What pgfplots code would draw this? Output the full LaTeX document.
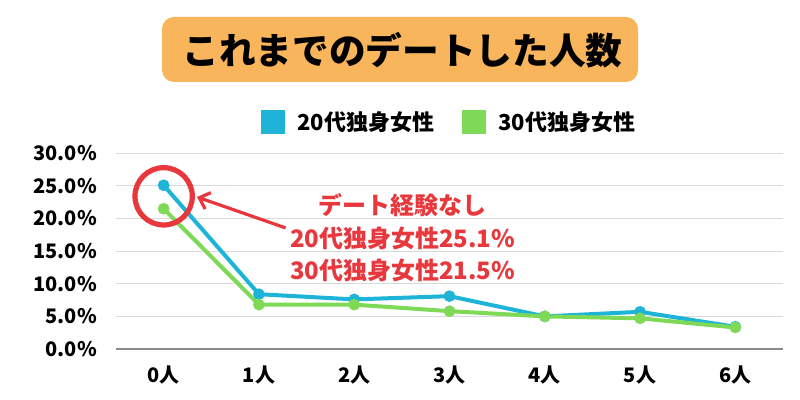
\documentclass[border=0pt]{standalone}
\usepackage{pgfplots}
\pgfplotsset{compat=1.18}
\usepackage{fontspec}
\setmainfont{Noto Sans CJK JP}
\usetikzlibrary{arrows.meta}

\definecolor{c20}{HTML}{1DB4D8}
\definecolor{c30}{HTML}{7ED957}
\definecolor{note}{HTML}{E8383D}
\definecolor{titlebg}{HTML}{F9B55C}
\definecolor{gridgray}{HTML}{D9D9D9}
\definecolor{axisgray}{HTML}{8C8C8C}

\begin{document}
\begin{tikzpicture}
    % canvas: 800 x 400 px, 1 px = 0.75 pt
    \path[use as bounding box, fill=white] (0,0) rectangle (600pt,300pt);

    % title
    \fill[titlebg, rounded corners=9pt] (121.5pt,238.5pt) rectangle (478.5pt,287.25pt);
    \node[inner sep=0pt, font=\fontsize{27.5}{30}\selectfont\bfseries]
        at (301.9pt,262.5pt) {これまでのデートした人数};

    % legend
    \fill[c20] (195.75pt,199.5pt) rectangle (213.75pt,217.5pt);
    \node[anchor=west, inner sep=0pt, font=\fontsize{16.5}{18}\selectfont\bfseries]
        at (222.75pt,208.5pt) {20代独身女性};
    \fill[c30] (346.5pt,199.5pt) rectangle (364.5pt,217.5pt);
    \node[anchor=west, inner sep=0pt, font=\fontsize{16.5}{18}\selectfont\bfseries]
        at (373.5pt,208.5pt) {30代独身女性};

    \begin{axis}[
            at={(87pt,38.25pt)},
            anchor=south west,
            scale only axis,
            width=500.25pt,
            height=146.8pt,
            xmin=-0.5, xmax=6.5,
            ymin=0, ymax=30,
            xtick={0,1,2,3,4,5,6},
            xticklabels={0人,1人,2人,3人,4人,5人,6人},
            ytick={0,5,10,15,20,25,30},
            yticklabels={0.0\%,5.0\%,10.0\%,15.0\%,20.0\%,25.0\%,30.0\%},
            axis x line*=bottom,
            axis y line*=left,
            x axis line style={draw=axisgray, line width=0.9pt, -},
            y axis line style={draw=none},
            major tick length=0pt,
            ymajorgrids,
            grid style={draw=gridgray, line width=0.8pt},
            tick label style={font=\fontsize{15}{17}\selectfont\bfseries, text=black},
            yticklabel style={inner sep=0pt, anchor=east, xshift=-14.25pt},
            xticklabel style={inner sep=0pt, anchor=center, yshift=-19.5pt},
            clip=false
        ]

        % 20s single women
        \addplot[color=c20, line width=3pt, mark=*, mark size=2.8pt]
            coordinates {(0,25.1) (1,8.4) (2,7.6) (3,8.1) (4,5.0) (5,5.7) (6,3.4)};

        % 30s single women
        \addplot[color=c30, line width=3pt, mark=*, mark size=2.8pt]
            coordinates {(0,21.5) (1,6.8) (2,6.8) (3,5.8) (4,5.0) (5,4.7) (6,3.3)};

        % highlight
        \draw[note, line width=3.9pt] (axis cs:0,23.4) circle[radius=21.5pt];
        \draw[note, line width=2.4pt, -{Straight Barb[length=7pt, width=13pt]}]
            (axis cs:1.28,18.56) -- (axis cs:0.35,23.3);
    \end{axis}

    % annotation
    \node[inner sep=0pt, text=note, font=\fontsize{18}{20}\selectfont\bfseries]
        at (301.5pt,146.25pt) {デート経験なし};
    \node[inner sep=0pt, text=note, font=\fontsize{18}{20}\selectfont\bfseries]
        at (302pt,121.5pt) {20代独身女性25.1\%};
    \node[inner sep=0pt, text=note, font=\fontsize{18}{20}\selectfont\bfseries]
        at (302pt,97.5pt) {30代独身女性21.5\%};
\end{tikzpicture}
\end{document}
